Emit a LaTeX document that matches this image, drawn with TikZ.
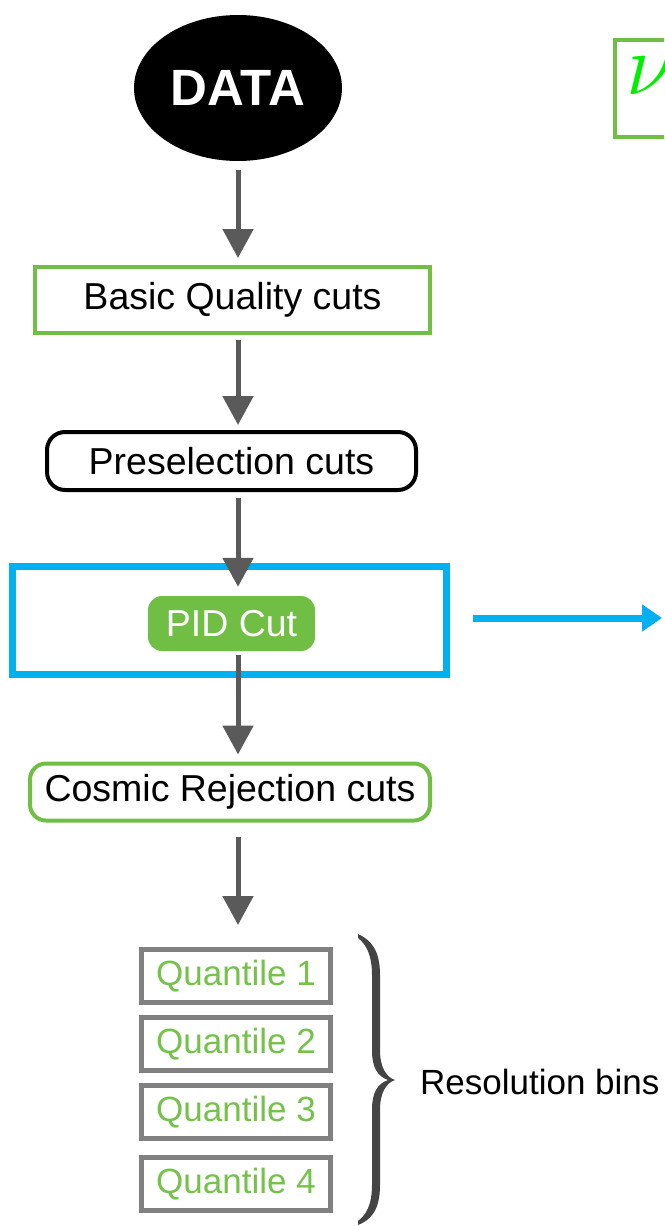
\documentclass[tikz,border=0pt]{standalone}
\usepackage{fontspec}
\setmainfont{Liberation Sans}
\usetikzlibrary{arrows.meta,shapes.geometric}
\definecolor{cgreen}{HTML}{70BF44}
\definecolor{qgreen}{HTML}{74C24A}
\definecolor{nugreen}{HTML}{00EE00}
\definecolor{agray}{HTML}{5A5A5A}
\definecolor{qgray}{HTML}{808080}
\definecolor{cblue}{HTML}{00B0F0}
\definecolor{bgray}{HTML}{444444}
\tikzset{
  big/.style={font=\fontsize{37.5}{44}\selectfont},
  stepbox/.style={draw, big, inner sep=0pt, align=center},
  arr/.style={draw=agray, line width=5pt, -{Triangle[width=30pt,length=29pt]}},
  barr/.style={draw=cblue, line width=7pt, -{Triangle[width=26pt,length=20pt]}},
  qbox/.style={draw=qgray, line width=5pt, text=qgreen, font=\fontsize{35}{42}\selectfont, inner sep=0pt, minimum width=189pt, minimum height=53pt},
}
\begin{document}
\begin{tikzpicture}[x=1pt,y=-1pt]
\useasboundingbox (0,0) rectangle (664,1226);
\clip (0,0) rectangle (664,1226);
\coordinate (ax) at (238,0);

\node[ellipse, fill=black, minimum width=208pt, minimum height=146pt, inner sep=0pt, text=white, font=\fontsize{51}{58}\selectfont\bfseries] (data) at (238,88) {DATA};

\node[stepbox, draw=cgreen, line width=4pt, minimum width=395pt, minimum height=66pt] (basic) at (232.5,300) {Basic Quality cuts};

\node[stepbox, draw=black, line width=4pt, rounded corners=18pt, minimum width=369pt, minimum height=58pt] (pre) at (231.5,461) {Preselection cuts};

\node[draw=cblue, line width=7pt, minimum width=434pt, minimum height=108pt, inner sep=0pt] (blue) at (229.5,620.5) {};

\node[fill=cgreen, text=white, big, rounded corners=14pt, minimum width=167pt, minimum height=55pt, inner sep=0pt] (pid) at (231.5,623.5) {PID Cut};

\node[stepbox, draw=cgreen, line width=4pt, rounded corners=16pt, minimum width=400pt, minimum height=57pt] (cosmic) at (230,792) {Cosmic Rejection cuts};

\node[qbox] (q1) at (236,976) {Quantile 1};
\node[qbox] (q2) at (236,1044) {Quantile 2};
\node[qbox] (q3) at (236,1112) {Quantile 3};
\node[qbox] (q4) at (236,1184) {Quantile 4};

\node[font=\fontsize{35}{42}\selectfont, anchor=west, inner sep=0pt] (res) at (420,1082) {Resolution bins};

\draw[arr, shorten <=9pt, shorten >=7pt] (ax |- data.south) -- (ax |- basic.north);
\draw[arr, shorten <=5pt, shorten >=5pt] (ax |- basic.south) -- (ax |- pre.north);
\draw[arr, shorten <=6pt, shorten >=9pt] (ax |- pre.south) -- (ax |- pid.north);
\draw[arr, shorten <=4pt, shorten >=7pt] (ax |- pid.south) -- (ax |- cosmic.north);
\draw[arr, shorten <=14pt, shorten >=22pt] (ax |- cosmic.south) -- (ax |- q1.north);

\coordinate (bend) at (662,618);
\draw[barr, shorten <=23pt] (blue.east |- bend) -- (bend);

% curly brace
\fill[bgray] (358,934) .. controls (371,940) and (380,950) .. (380,975) -- (380,1050)
  .. controls (380,1067) and (386,1077) .. (395,1080)
  .. controls (386,1083) and (380,1093) .. (380,1110) -- (380,1185)
  .. controls (380,1210) and (371,1220) .. (358,1225) -- (358,1221)
  .. controls (366,1215) and (372,1205) .. (372,1185) -- (372,1110)
  .. controls (372,1093) and (377,1084) .. (388,1080)
  .. controls (377,1076) and (372,1067) .. (372,1050) -- (372,975)
  .. controls (372,955) and (366,944) .. (358,938) -- cycle;

\draw[cgreen, line width=4pt] (615,40) rectangle (700,137);
\node[text=nugreen, scale=3.5, anchor=west, inner sep=0pt] (nu) at (626,76) {\Huge$\nu$};
\end{tikzpicture}
\end{document}
